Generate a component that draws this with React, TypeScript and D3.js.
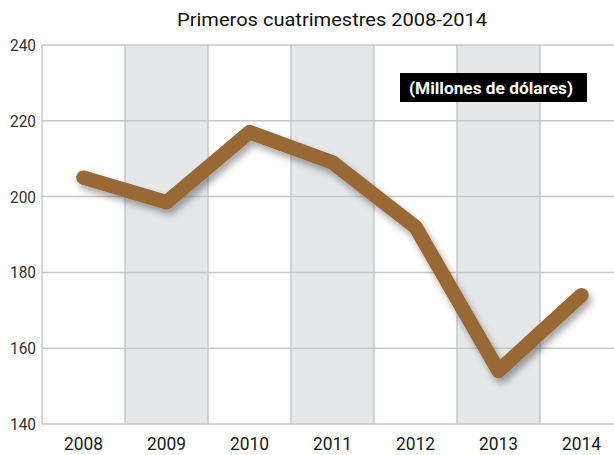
import React from "react";
import * as d3 from "d3";

const years = ["2008", "2009", "2010", "2011", "2012", "2013", "2014"];
const values = [205, 198.5, 217, 209, 192, 154, 174];
const yTicks = [140, 160, 180, 200, 220, 240];
const shadedYears = ["2009", "2011", "2013"];

const title = "Primeros cuatrimestres 2008-2014";
const unitLabel = "(Millones de dólares)";

export default function App() {
  const width = 614;
  const height = 455;
  const margin = { top: 45, left: 42, bottom: 31 };
  const bandW = 83;
  const plotRight = margin.left + bandW * years.length;

  const x = d3.scaleBand().domain(years).range([margin.left, plotRight]);
  const y = d3.scaleLinear().domain([140, 240]).range([height - margin.bottom, margin.top]);

  const line = d3
    .line<number>()
    .x((d, i) => (x(years[i]) as number) + x.bandwidth() / 2)
    .y(d => y(d));

  const font = "Roboto, 'DejaVu Sans', sans-serif";
  const grid = "#c6c7c9";

  return (
    <svg width={width} height={height} style={{ position: "absolute", left: 0, top: 0 }}>
      <defs>
        <filter id="shadow" x="-10%" y="-10%" width="120%" height="130%">
          <feDropShadow dx="3" dy="5" stdDeviation="3.5" floodColor="#000" floodOpacity="0.35" />
        </filter>
      </defs>
      <rect width={width} height={height} fill="#fff" />

      {/* alternating bands */}
      {shadedYears.map(yr => (
        <rect
          key={yr}
          x={x(yr)}
          y={y(240)}
          width={x.bandwidth()}
          height={y(140) - y(240)}
          fill="#e6e7e9"
        />
      ))}

      {/* horizontal grid */}
      {yTicks.map(t => (
        <line key={t} x1={margin.left} x2={plotRight} y1={y(t)} y2={y(t)} stroke={grid} strokeWidth={1.5} />
      ))}
      {/* vertical grid */}
      {years.concat(["end"]).map((yr, i) => {
        const xv = margin.left + i * x.bandwidth();
        return <line key={yr} x1={xv} x2={xv} y1={y(240)} y2={y(140)} stroke={grid} strokeWidth={1.5} />;
      })}

      {/* y labels */}
      {yTicks.map(t => (
        <text
          key={t}
          x={margin.left - 6}
          y={y(t) + 6}
          textAnchor="end"
          fontFamily={font}
          fontSize={17}
          fill="#333"
          textLength={26}
          lengthAdjust="spacingAndGlyphs"
        >
          {t}
        </text>
      ))}

      {/* x labels */}
      {years.map(yr => (
        <text
          key={yr}
          x={(x(yr) as number) + x.bandwidth() / 2}
          y={y(140) + 26}
          textAnchor="middle"
          fontFamily={font}
          fontSize={19}
          fill="#1a1a1a"
          textLength={39}
          lengthAdjust="spacingAndGlyphs"
        >
          {yr}
        </text>
      ))}

      {/* line */}
      <path
        d={line(values) || ""}
        fill="none"
        stroke="#986836"
        strokeWidth={14.5}
        strokeLinecap="round"
        strokeLinejoin="round"
        filter="url(#shadow)"
      />

      {/* title */}
      <text
        x={332}
        y={26}
        textAnchor="middle"
        fontFamily={font}
        fontSize={19}
        fill="#111"
        textLength={310}
        lengthAdjust="spacingAndGlyphs"
      >
        {title}
      </text>

      {/* unit box */}
      <rect x={400} y={73} width={187} height={29} fill="#000" />
      <text
        x={491}
        y={94}
        textAnchor="middle"
        fontFamily={font}
        fontSize={17}
        fontWeight="bold"
        fill="#fff"
        textLength={164}
        lengthAdjust="spacingAndGlyphs"
      >
        {unitLabel}
      </text>
    </svg>
  );
}
